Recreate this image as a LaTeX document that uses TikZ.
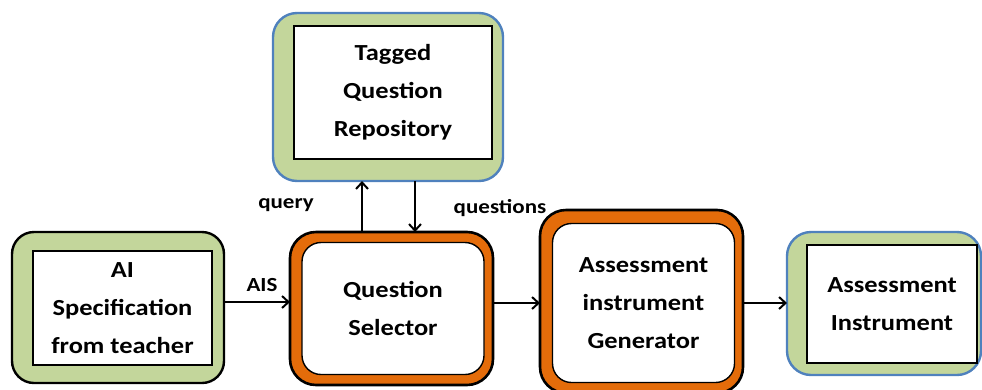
\documentclass[tikz,border=0pt]{standalone}
\usepackage{fontspec}
\setmainfont{Carlito}[FakeStretch=1.15]
\usetikzlibrary{arrows.meta}
\definecolor{boxgreen}{HTML}{C3D69B}
\definecolor{boxorange}{HTML}{E46C0A}
\definecolor{boxblue}{HTML}{4F81BD}
\tikzset{
  every node/.style={inner sep=0pt, outer sep=0pt},
  greenouter/.style={draw=black, line width=2.4pt, fill=boxgreen, rounded corners=22pt},
  blueouter/.style={draw=boxblue, line width=2.4pt, fill=boxgreen, rounded corners=24pt},
  orangeouter/.style={draw=black, line width=2.6pt, fill=boxorange, rounded corners=26pt},
  plaininner/.style={draw=black, line width=1.2pt, fill=white, align=center,
    font=\fontsize{23}{38}\selectfont\bfseries},
  roundinner/.style={draw=black, line width=1.4pt, fill=white, rounded corners=19pt,
    align=center, font=\fontsize{23}{38}\selectfont\bfseries},
  arr/.style={line width=2pt, -{Straight Barb[length=6.5pt,width=12pt,line width=2pt]}},
  lbl/.style={font=\fontsize{20}{24}\selectfont\bfseries},
}
\begin{document}
\begin{tikzpicture}[x=1pt,y=-1pt]
\useasboundingbox (0,0) rectangle (982,389);

% AI specification (input)
\node[greenouter, minimum width=212pt, minimum height=151pt] (ai) at (118,307.5) {};
\node[plaininner, minimum width=179pt, minimum height=114pt] (aitxt) at (122.5,308)
  {AI\\Specification\\from teacher};

% tagged question repository
\node[blueouter, minimum width=230pt, minimum height=168pt] (repo) at (388,97) {};
\node[plaininner, minimum width=198pt, minimum height=133pt] (repotxt) at (393,92.5)
  {Tagged\\Question\\Repository};

% question selector
\node[orangeouter, minimum width=203pt, minimum height=153pt] (qs) at (391.5,308.5) {};
\node[roundinner, minimum width=182pt, minimum height=132pt] (qstxt) at (393,308.5)
  {Question\\Selector};

% assessment instrument generator
\node[orangeouter, minimum width=203pt, minimum height=183pt] (gen) at (641.5,301.5) {};
\node[roundinner, minimum width=182pt, minimum height=159pt] (gentxt) at (643.5,303)
  {Assessment\\instrument\\Generator};

% assessment instrument (output)
\node[blueouter, minimum width=194pt, minimum height=143pt] (ain) at (884,303.5) {};
\node[plaininner, minimum width=170pt, minimum height=118pt] (aintxt) at (892,304)
  {Assessment\\Instrument};

% connector rows and columns
\coordinate (rowA) at (0,302);
\coordinate (rowB) at (0,303);
\coordinate (colQ) at (362,0);
\coordinate (colR) at (415,0);

\draw[arr] (ai.east |- rowA) -- (qs.west |- rowA);
\draw[arr] (qs.east |- rowB) -- (gen.west |- rowB);
\draw[arr] (gen.east |- rowB) -- (ain.west |- rowB);
\draw[arr] (qs.north -| colQ) -- (repo.south -| colQ);
\draw[arr] (repo.south -| colR) -- (qs.north -| colR);

% connector labels
\node[lbl] (lais) at (262,285) {AIS};
\node[lbl] (lquery) at (286,205) {query};
\node[lbl] (lquest) at (500,208) {questions};
\end{tikzpicture}
\end{document}
